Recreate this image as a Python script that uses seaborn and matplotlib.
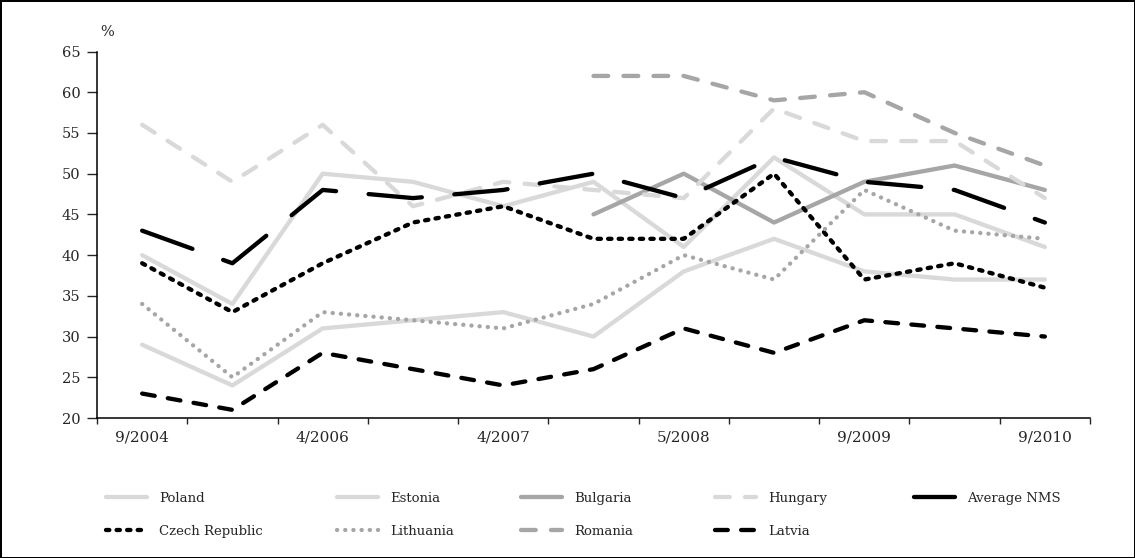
import numpy as np
import matplotlib.pyplot as plt
import seaborn as sns

nan = np.nan

# survey waves (only every second one is labelled on the axis)
survey = list(range(11))
survey_labels = ['9/2004', '', '4/2006', '', '4/2007', '', '5/2008', '', '9/2009', '', '9/2010']

poland = [29, 24, 31, 32, 33, 30, 38, 42, 38, 37, 37]
estonia = [40, 34, 50, 49, 46, 49, 41, 52, 45, 45, 41]
bulgaria = [nan, nan, nan, nan, nan, 45, 50, 44, 49, 51, 48]
hungary = [56, 49, 56, 46, 49, 48, 47, 58, 54, 54, 47]
average_nms = [43, 39, 48, 47, 48, 50, 47, 52, 49, 48, 44]
czech = [39, 33, 39, 44, 46, 42, 42, 50, 37, 39, 36]
lithuania = [34, 25, 33, 32, 31, 34, 40, 37, 48, 43, 42]
romania = [nan, nan, nan, nan, nan, 62, 62, 59, 60, 55, 51]
latvia = [23, 21, 28, 26, 24, 26, 31, 28, 32, 31, 30]

light = '#d9d9d9'
mid = '#a6a6a6'
dark = 'black'

sns.set_style('white')
plt.rcParams['font.family'] = ['DejaVu Serif']
plt.rcParams['lines.scale_dashes'] = False

fig = plt.figure(figsize=(11.35, 5.58), dpi=100)
ax = fig.add_axes([97 / 1135, 140 / 558, 993 / 1135, 366.5 / 558])

# (label, values, colour, dash pattern in points)
series = [
    ('Poland', poland, light, '-'),
    ('Estonia', estonia, light, '-'),
    ('Bulgaria', bulgaria, mid, '-'),
    ('Hungary', hungary, light, (0, (10.6, 11))),
    ('Average NMS', average_nms, dark, (0, (38.5, 23.5))),
    ('Czech Republic', czech, dark, (0, (2.4, 5.2))),
    ('Lithuania', lithuania, mid, (0, (0.1, 5.8))),
    ('Romania', romania, mid, (0, (10.6, 11))),
    ('Latvia', latvia, dark, (0, (9.2, 9.6))),
]

for name, vals, col, ls in series:
    sns.lineplot(x=survey, y=vals, ax=ax, color=col, linewidth=3.1, linestyle=ls,
                 dash_capstyle='round', solid_capstyle='round', label=name, legend=False)

ax.set_xlim(-0.5, 10.5)
ax.set_ylim(20, 65)
ax.set_yticks(range(20, 70, 5))
ax.set_xticks(survey[::2])
ax.set_xticklabels(survey_labels[::2])
ax.set_xticks(np.arange(-0.5, 11, 1), minor=True)
ax.tick_params(axis='y', direction='out', length=7, width=1, pad=5, labelsize=10.5, left=True)
ax.tick_params(axis='x', which='major', length=0, pad=9, labelsize=11, bottom=True)
ax.tick_params(axis='x', which='minor', direction='out', length=4.5, width=1, bottom=True)
ax.set_xlabel('')
ax.set_ylabel('')
for s in ['top', 'right']:
    ax.spines[s].set_visible(False)
for s in ['left', 'bottom']:
    ax.spines[s].set_color('black')
    ax.spines[s].set_linewidth(1.1)

fig.text(107 / 1135, 1 - 32 / 558, '%', ha='center', va='center', fontsize=10.5)

# legend laid out in fixed columns like the original
handles, labels = ax.get_legend_handles_labels()
lookup = dict(zip(labels, handles))
columns = [['Poland', 'Czech Republic'], ['Estonia', 'Lithuania'], ['Bulgaria', 'Romania'],
           ['Hungary', 'Latvia'], ['Average NMS']]
col_x = [106, 337, 521, 715, 914]
for names, x in zip(columns, col_x):
    fig.legend([lookup[n] for n in names], names, loc='upper left',
               bbox_to_anchor=(x / 1135, 1 - 492 / 558), frameon=False, fontsize=9.5,
               borderpad=0, borderaxespad=0, handlelength=3.1, handletextpad=0.9,
               labelspacing=1.5)

fig.patch.set_edgecolor('black')
fig.patch.set_linewidth(2)

fig.savefig('out.png', dpi=100)
